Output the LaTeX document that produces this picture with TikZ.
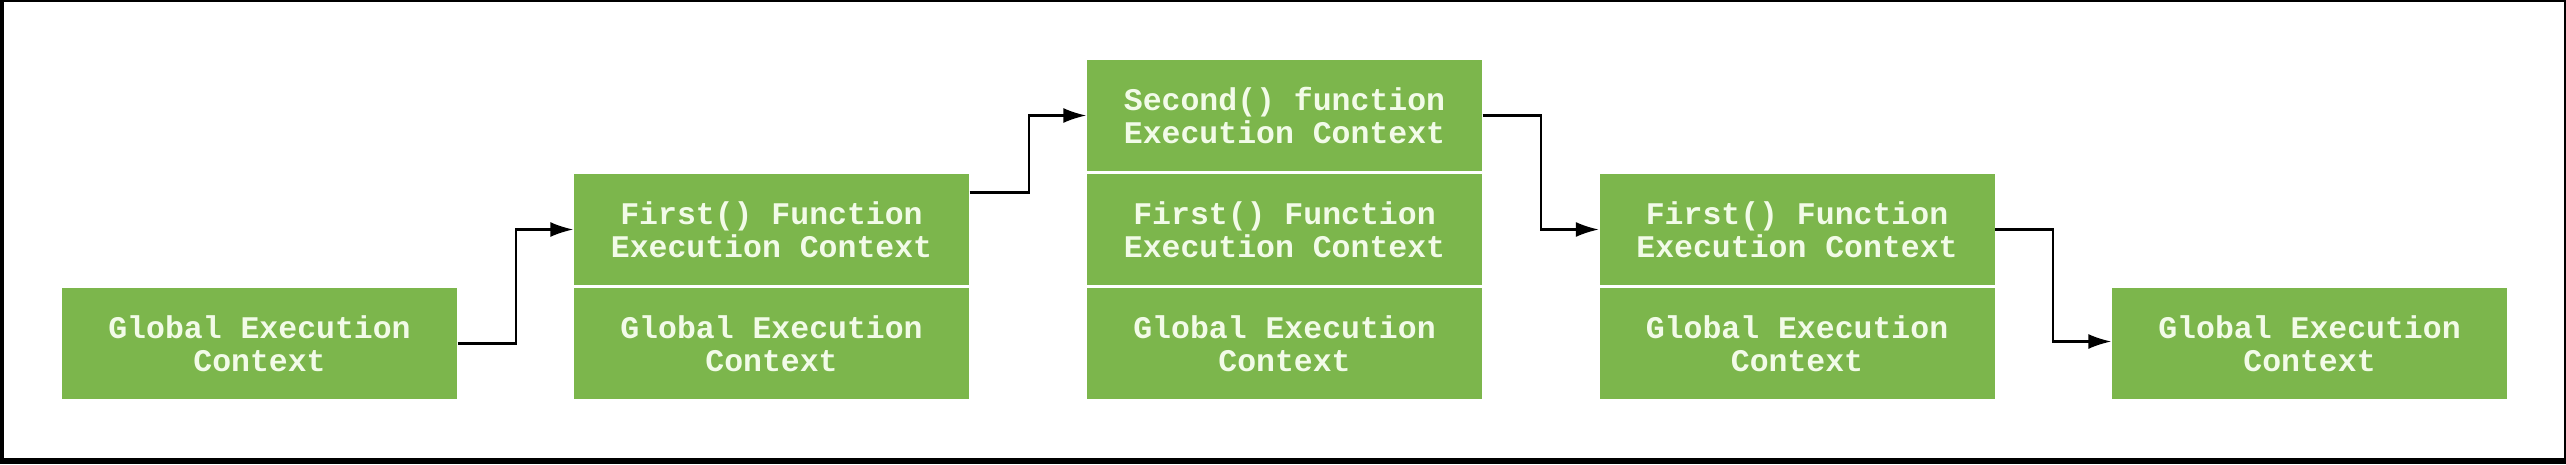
\documentclass[tikz,border=0pt]{standalone}
\usepackage{fontspec}
\newfontfamily\ctxfont{Liberation Mono}
\usetikzlibrary{arrows.meta}
\definecolor{ctxgreen}{RGB}{124,182,76}
\definecolor{ctxtext}{RGB}{242,251,232}
\begin{document}
\begin{tikzpicture}
[boxdecorate/.style={shape=rectangle,fill=ctxgreen,text=ctxtext,inner sep=0pt,%
  minimum width=3.95cm,minimum height=1.11cm,align=center,%
  font=\ctxfont\bfseries\fontsize{8.96}{9.4}\selectfont},%
  arrowdecorate/.style={-{Latex[length=0.23cm,width=0.15cm]},line width=0.6pt,black}]
% frame
\fill[black] (0,0) rectangle (25.66,4.64);
\fill[white] (0.035,0.06) rectangle (25.64,4.62);
% nodes or boxes
\node (g1) at (2.595,1.205) [boxdecorate] {Global Execution\\Context};
\node (g2) at (7.715,1.205) [boxdecorate] {Global Execution\\Context};
\node (f2) at (7.715,2.345) [boxdecorate] {First() Function\\Execution Context};
\node (g3) at (12.845,1.205) [boxdecorate] {Global Execution\\Context};
\node (f3) at (12.845,2.345) [boxdecorate] {First() Function\\Execution Context};
\node (s3) at (12.845,3.485) [boxdecorate] {Second() function\\Execution Context};
\node (g4) at (17.97,1.205) [boxdecorate] {Global Execution\\Context};
\node (f4) at (17.97,2.345) [boxdecorate] {First() Function\\Execution Context};
\node (g5) at (23.095,1.205) [boxdecorate] {Global Execution\\Context};
% edges or arrows
\draw[arrowdecorate] (g1.east) -- ++(0.58,0) |- (f2.west);
\draw[arrowdecorate] ([yshift=0.37cm]f2.east) -- ++(0.59,0) |- (s3.west);
\draw[arrowdecorate] (s3.east) -- ++(0.58,0) |- (f4.west);
\draw[arrowdecorate] (f4.east) -- ++(0.58,0) |- ([yshift=0.02cm]g5.west);
\end{tikzpicture}
\end{document}
